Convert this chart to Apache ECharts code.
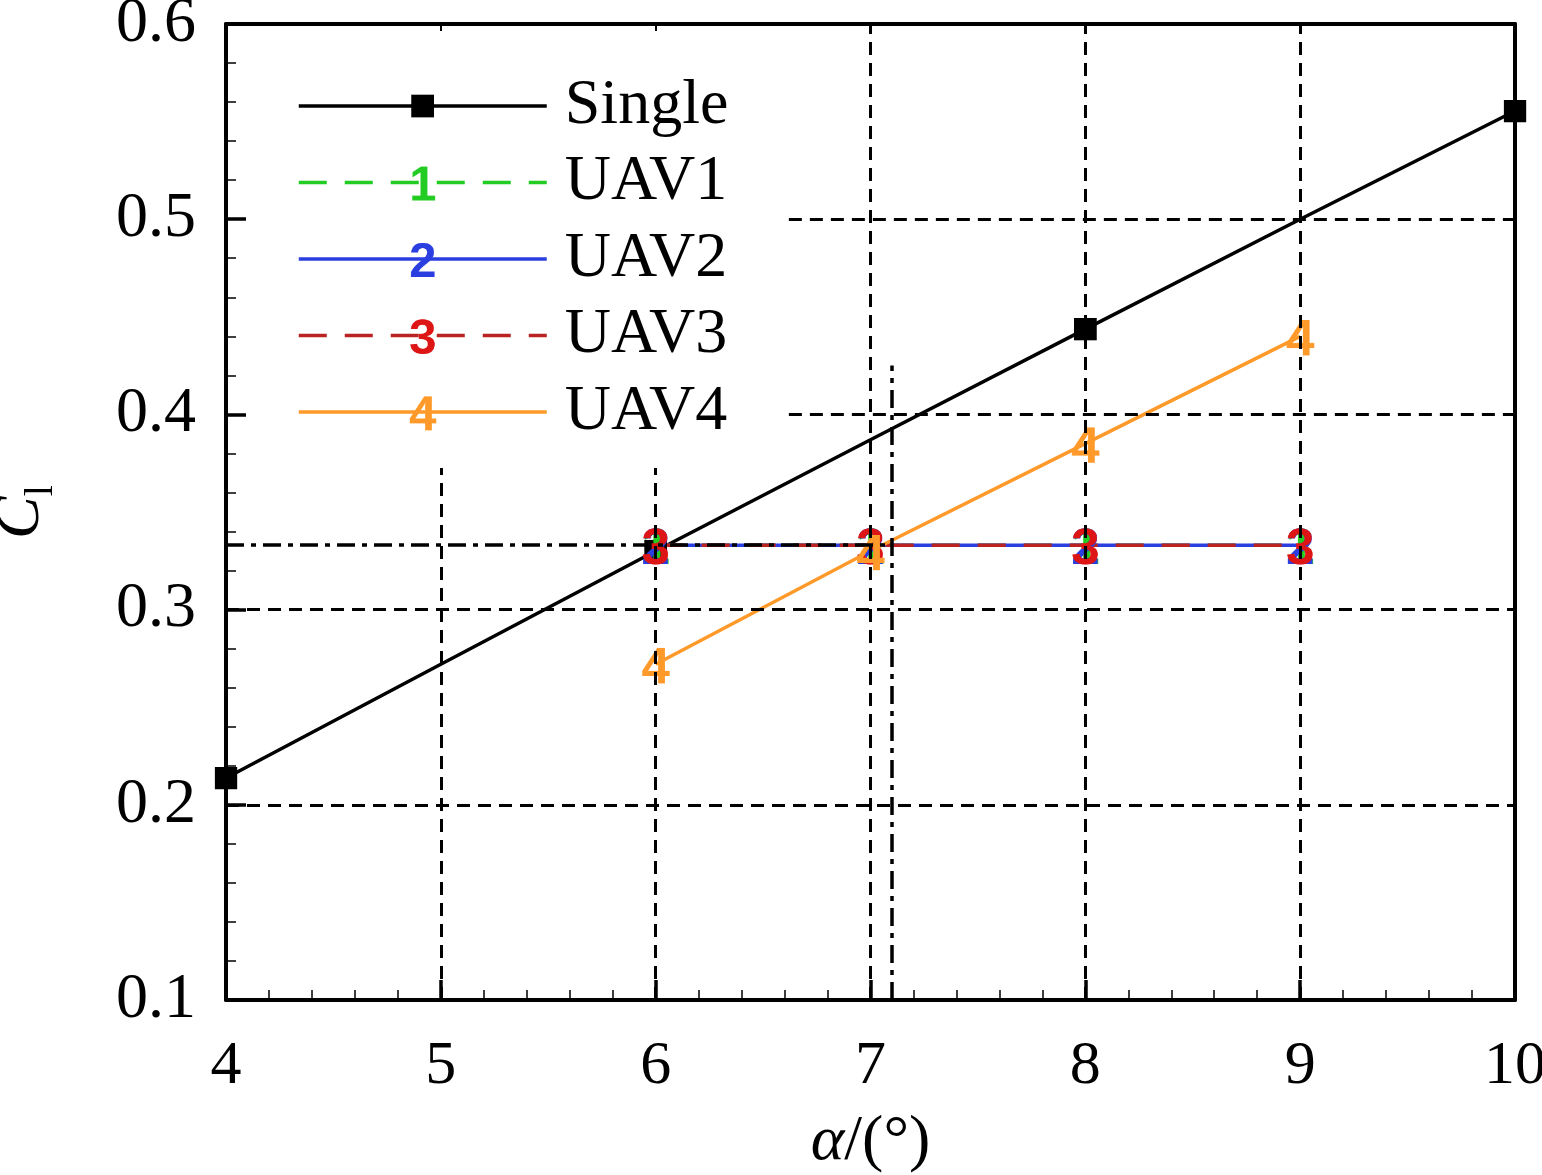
<!DOCTYPE html>
<html><head><meta charset="utf-8">
<script src="https://cdn.jsdelivr.net/npm/echarts@6/dist/echarts.min.js"></script>
<style>html,body{margin:0;padding:0;background:#fff}#c{width:1542px;height:1175px}</style>
</head><body><div id="c"></div>
<script>
// ---- data ----
const alphaSingle = [4, 5, 6, 7, 8, 9, 10];
const single = [0.2137, 0.272, 0.330, 0.387, 0.4437, 0.500, 0.5554];
const alphaUAV = [6, 7, 8, 9];
const uav1 = [0.333, 0.333, 0.333, 0.333];
const uav2 = [0.333, 0.333, 0.333, 0.333];
const uav3 = [0.333, 0.333, 0.333, 0.333];
const uav4 = [0.272, 0.330, 0.385, 0.440];
const seriesNames = ['Single', 'UAV1', 'UAV2', 'UAV3', 'UAV4'];
// reference lines [x1, y1, x2, y2]
const dashedLines = [
  [5, 0.1, 5, 0.3725], [6, 0.1, 6, 0.3725],
  [7, 0.1, 7, 0.6], [8, 0.1, 8, 0.6], [9, 0.1, 9, 0.6],
  [4, 0.2, 10, 0.2], [4, 0.3, 10, 0.3],
  [6.62, 0.4, 10, 0.4], [6.62, 0.5, 10, 0.5]
];
const dashDotLines = [
  [4, 0.333, 7.1, 0.333], [7.1, 0.1, 7.1, 0.425]
];

// ---- marker images ----
function digitImg(d, color) {
  const c = document.createElement('canvas'); c.width = 64; c.height = 64;
  const g = c.getContext('2d');
  g.fillStyle = color; g.font = 'bold 82px "Liberation Sans"';
  g.textAlign = 'center'; g.textBaseline = 'alphabetic';
  g.fillText(d, 32, 62);
  return 'image://' + c.toDataURL();
}
function squareImg() {
  const c = document.createElement('canvas'); c.width = 64; c.height = 64;
  const g = c.getContext('2d');
  g.fillStyle = '#000'; g.fillRect(13, 13, 38, 38);
  return 'image://' + c.toDataURL();
}

const chart = echarts.init(document.getElementById('c'));
const serif = '"Liberation Serif", "Times New Roman", serif';

function toPairs(xs, ys) { return xs.map((x, i) => [x, ys[i]]); }
function mlData(list, style) {
  return list.map(l => [{ coord: [l[0], l[1]], lineStyle: style }, { coord: [l[2], l[3]] }]);
}

const dashedStyle = { color: '#000', width: 3, type: [13, 8] };
const dashDotStyle = { color: '#000', width: 3.5, type: [18, 7, 5, 7] };

const option = {
  animation: false,
  backgroundColor: '#fff',
  grid: { left: 226, right: 27, top: 24, bottom: 175, outerBoundsMode: 'none', containLabel: false },
  legend: {
    orient: 'vertical', left: 297, top: 74, padding: 0,
    itemWidth: 248, itemHeight: 48, itemGap: 12.5,
    data: seriesNames,
    lineStyle: { width: 3.5 },
    textStyle: { fontFamily: serif, fontSize: 64, color: '#000', lineHeight: 62, padding: [0, 0, 0, 13] }
  },
  xAxis: [{
    type: 'value', min: 4, max: 10, interval: 1, position: 'bottom',
    axisLine: { onZero: false, lineStyle: { color: '#000', width: 4 } },
    axisTick: { inside: true, length: 20, lineStyle: { color: '#000', width: 3.5 } },
    minorTick: { show: true, splitNumber: 5, length: 10, lineStyle: { color: '#000', width: 1.5 } },
    axisLabel: { margin: 36, fontFamily: serif, fontSize: 62, color: '#000' },
    splitLine: { show: false },
    name: '{a|α}{b|/(°)}', nameLocation: 'middle', nameGap: 110,
    nameTextStyle: { rich: {
      a: { fontFamily: serif, fontSize: 64, fontStyle: 'italic', color: '#000' },
      b: { fontFamily: serif, fontSize: 64, color: '#000' } } }
  }, {
    type: 'value', min: 4, max: 10, interval: 1, position: 'top',
    axisLine: { onZero: false, lineStyle: { color: '#000', width: 4 } },
    axisTick: { inside: true, length: 7, lineStyle: { color: '#000', width: 2 } },
    axisLabel: { show: false }, splitLine: { show: false }
  }],
  yAxis: [{
    type: 'value', min: 0.1, max: 0.6, interval: 0.1, position: 'left',
    axisLine: { onZero: false, lineStyle: { color: '#000', width: 4 } },
    axisTick: { inside: true, length: 20, lineStyle: { color: '#000', width: 3.5 } },
    minorTick: { show: true, splitNumber: 5, length: 10, lineStyle: { color: '#000', width: 1.5 } },
    axisLabel: { margin: 30, fontFamily: serif, fontSize: 64, color: '#000', formatter: v => v.toFixed(1) },
    splitLine: { show: false },
    name: '{c|C}{l|l}', nameLocation: 'middle', nameGap: 165, nameRotate: 90,
    nameTextStyle: { rich: {
      c: { fontFamily: serif, fontSize: 64, fontStyle: 'italic', color: '#000', lineHeight: 80, verticalAlign: 'middle' },
      l: { fontFamily: serif, fontSize: 40, color: '#000', lineHeight: 80, verticalAlign: 'bottom' } } }
  }, {
    type: 'value', min: 0.1, max: 0.6, interval: 0.1, position: 'right',
    axisLine: { onZero: false, lineStyle: { color: '#000', width: 4 } },
    axisTick: { show: false }, axisLabel: { show: false }, splitLine: { show: false }
  }],
  series: [
    {
      name: 'Single', type: 'line', symbol: squareImg(), symbolSize: 38,
      data: alphaSingle.map((x, i) => i % 2 === 0 ? { value: [x, single[i]] } : { value: [x, single[i]], symbol: 'none' }),
      lineStyle: { color: '#000', width: 3.5 }, itemStyle: { color: '#000' },
      markLine: {
        silent: true, symbol: 'none', label: { show: false }, animation: false,
        data: mlData(dashedLines, dashedStyle).concat(mlData(dashDotLines, dashDotStyle))
      }
    },
    {
      name: 'UAV1', type: 'line', symbol: digitImg('1', '#22cc22'), symbolSize: 40,
      data: toPairs(alphaUAV, uav1),
      lineStyle: { color: '#22cc22', width: 3.5, type: [28, 18] }, itemStyle: { color: '#22cc22' }
    },
    {
      name: 'UAV2', type: 'line', symbol: digitImg('2', '#2b3fe0'), symbolSize: 40,
      data: toPairs(alphaUAV, uav2),
      lineStyle: { color: '#2b3fe0', width: 3.5 }, itemStyle: { color: '#2b3fe0' }
    },
    {
      name: 'UAV3', type: 'line', symbol: digitImg('3', '#dd1515'), symbolSize: 40,
      data: toPairs(alphaUAV, uav3),
      lineStyle: { color: '#bb2222', width: 3.5, type: [28, 18] }, itemStyle: { color: '#dd1515' }
    },
    {
      name: 'UAV4', type: 'line', symbol: digitImg('4', '#ff9a2a'), symbolSize: 40,
      data: toPairs(alphaUAV, uav4),
      lineStyle: { color: '#ff9a2a', width: 3.5 }, itemStyle: { color: '#ff9a2a' }
    }
  ]
};
chart.setOption(option);
</script>
</body></html>
